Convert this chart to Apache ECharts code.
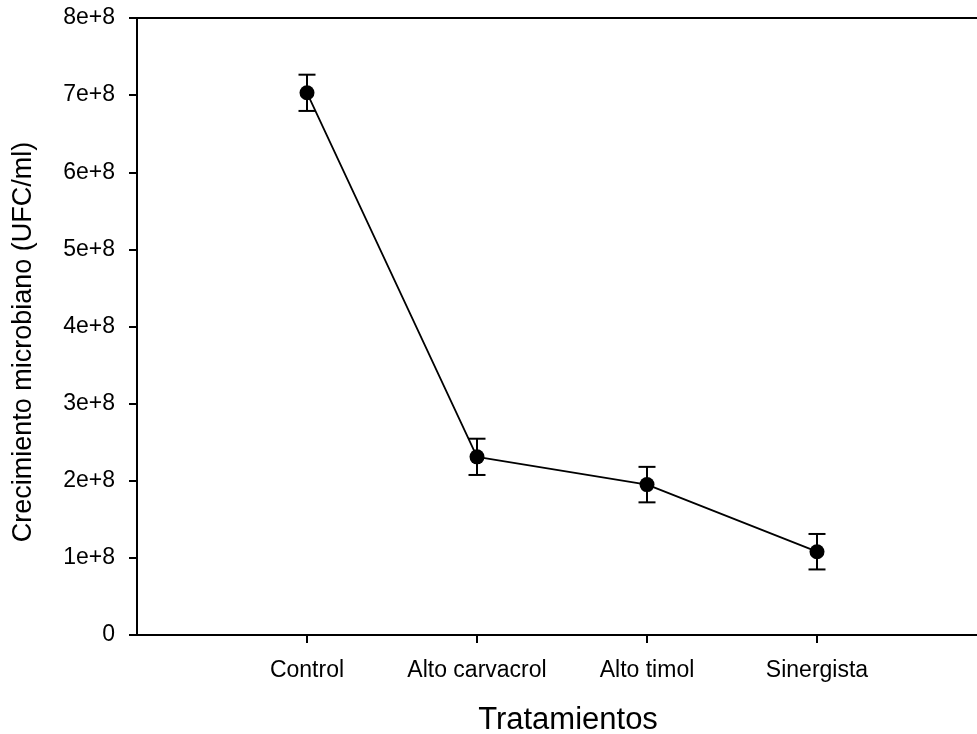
<!DOCTYPE html>
<html>
<head>
<meta charset="utf-8">
<script src="https://cdn.jsdelivr.net/npm/echarts@6/dist/echarts.min.js"></script>
<style>html,body{margin:0;padding:0;background:#fff}#c{width:977px;height:734px}</style>
</head>
<body>
<div id="c"></div>
<script>
const categories = ['Control', 'Alto carvacrol', 'Alto timol', 'Sinergista'];
const means = [7.03e8, 2.31e8, 1.95e8, 1.08e8];
const errors = [0.235e8, 0.235e8, 0.23e8, 0.23e8];
const yTicks = [0, 1e8, 2e8, 3e8, 4e8, 5e8, 6e8, 7e8, 8e8];
const yTickLabels = ['0', '1e+8', '2e+8', '3e+8', '4e+8', '5e+8', '6e+8', '7e+8', '8e+8'];
const xTitle = 'Tratamientos';
const yTitle = 'Crecimiento microbiano (UFC/ml)';

const axisCats = [''].concat(categories, ['']);
const lineData = [null].concat(means, [null]);
const errData = means.map((m, i) => [i + 1, m - errors[i], m + errors[i]]);
const FONT = 'Liberation Sans, Arial, sans-serif';

const chart = echarts.init(document.getElementById('c'), null, {renderer: 'canvas'});
chart.setOption({
  animation: false,
  backgroundColor: '#fff',
  grid: {left: 137, width: 850, top: 18, bottom: 99, outerBoundsMode: 'none', containLabel: false,
    show: true, borderColor: '#000', borderWidth: 2, backgroundColor: 'transparent'},
  graphic: [
    {type: 'text', x: 568, y: 720, style: {text: xTitle, fill: '#000', font: '31px ' + FONT, textAlign: 'center', textVerticalAlign: 'middle'}},
    {type: 'text', x: 24, y: 342, rotation: Math.PI / 2, style: {text: yTitle, fill: '#000', font: '27px ' + FONT, textAlign: 'center', textVerticalAlign: 'middle'}}
  ],
  xAxis: {
    type: 'category',
    data: axisCats,
    boundaryGap: false,
    axisLine: {lineStyle: {color: '#000', width: 2}},
    axisTick: {show: true, length: 8, lineStyle: {color: '#000', width: 2},
      interval: (idx, val) => val !== ''},
    axisLabel: {color: '#000', fontSize: 23, fontFamily: FONT, margin: 24, interval: 0},
    splitLine: {show: false}
  },
  yAxis: {
    type: 'value',
    min: 0, max: 8e8, interval: 1e8,
    axisLine: {show: true, lineStyle: {color: '#000', width: 2}},
    axisTick: {show: true, length: 8, lineStyle: {color: '#000', width: 2}},
    axisLabel: {color: '#000', fontSize: 23, fontFamily: FONT, margin: 22,
      formatter: v => { const i = yTicks.indexOf(v); return i >= 0 ? yTickLabels[i] : ''; }},
    splitLine: {show: false}
  },
  series: [
    {
      type: 'custom',
      data: errData,
      z: 3,
      renderItem: (params, api) => {
        const x = api.value(0);
        const lo = api.coord([x, api.value(1)]);
        const hi = api.coord([x, api.value(2)]);
        const hw = 8.5;
        const st = {stroke: '#000', lineWidth: 2};
        return {type: 'group', children: [
          {type: 'line', shape: {x1: lo[0], y1: lo[1], x2: hi[0], y2: hi[1]}, style: st},
          {type: 'line', shape: {x1: lo[0] - hw, y1: lo[1], x2: lo[0] + hw, y2: lo[1]}, style: st},
          {type: 'line', shape: {x1: hi[0] - hw, y1: hi[1], x2: hi[0] + hw, y2: hi[1]}, style: st}
        ]};
      }
    },
    {
      type: 'line',
      data: lineData,
      z: 4,
      connectNulls: false,
      symbol: 'circle',
      symbolSize: 15,
      showSymbol: true,
      lineStyle: {color: '#000', width: 1.8},
      itemStyle: {color: '#000'}
    }
  ]
});
</script>
</body>
</html>
